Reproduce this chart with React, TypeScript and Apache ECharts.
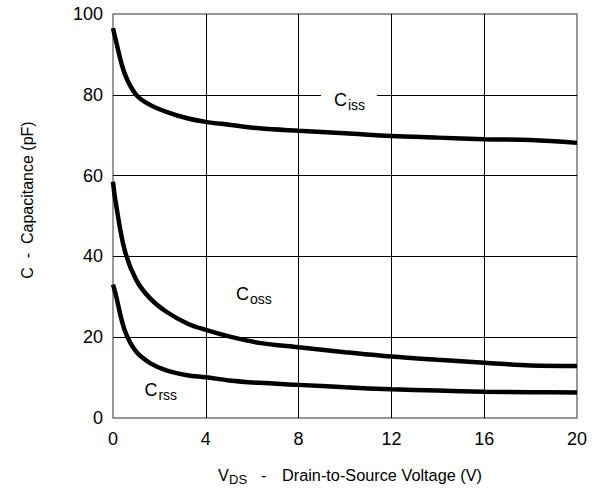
import React, { useEffect, useRef } from "react";
import * as echarts from "echarts";

const vds = [0, 0.1, 0.5, 1.0, 1.6, 2.3, 3.2, 4, 5, 6.3, 8, 10, 12, 14, 16, 18, 20];
const ciss = [96.5, 94, 85.3, 80, 77.5, 75.8, 74.2, 73.3, 72.6, 71.7, 71.1, 70.5, 69.8, 69.4, 69.0, 68.8, 68.1];
const coss = [58.5, 54, 41.6, 34.2, 29.6, 26.3, 23.4, 21.8, 20.2, 18.6, 17.5, 16.3, 15.2, 14.4, 13.7, 13.0, 12.9];
const crss = [33, 31, 21.8, 16.4, 13.6, 11.8, 10.6, 10.1, 9.3, 8.7, 8.2, 7.6, 7.1, 6.8, 6.5, 6.4, 6.3];

const xTicks = [0, 4, 8, 12, 16, 20];
const yTicks = [0, 20, 40, 60, 80, 100];

// annotation anchors (data coordinates)
const labels = [
  { name: "iss", x: 10.17, y: 78.6, bg: true },
  { name: "oss", x: 5.95, y: 30.7, bg: false },
  { name: "rss", x: 2.0, y: 6.9, bg: false },
];

const yTitle = "C  -  Capacitance (pF)";
const xTitleMain = "V";
const xTitleSub = "DS";
const xTitleDash = "-";
const xTitleRest = "Drain-to-Source Voltage (V)";

const FONT = "'Liberation Sans', Arial, sans-serif";

export default function App() {
  const ref = useRef<HTMLDivElement>(null);
  useEffect(() => {
    if (!ref.current) return;
    const chart = echarts.init(ref.current, null, { renderer: "svg" });
    const mk = (arr: number[]) => vds.map((v, i) => [v, arr[i]]);
    const lineSeries = (arr: number[]) => ({
      type: "line",
      data: mk(arr),
      smooth: 0.35,
      symbol: "none",
      lineStyle: { color: "#000", width: 4.5 },
      z: 5,
    });
    chart.setOption({
      animation: false,
      grid: {
        left: 113,
        top: 14,
        width: 464,
        height: 404,
        show: true,
        borderColor: "#777",
        borderWidth: 1.5,
        backgroundColor: "#fff",
      },
      xAxis: {
        type: "value",
        min: xTicks[0],
        max: xTicks[xTicks.length - 1],
        interval: xTicks[1] - xTicks[0],
        axisLine: { show: false },
        axisTick: { show: false },
        axisLabel: { color: "#000", fontSize: 18, fontFamily: FONT, margin: 12 },
        splitLine: { show: true, showMinLine: false, showMaxLine: false, lineStyle: { color: "#000", width: 1 } },
      },
      yAxis: {
        type: "value",
        min: yTicks[0],
        max: yTicks[yTicks.length - 1],
        interval: yTicks[1] - yTicks[0],
        axisLine: { show: false },
        axisTick: { show: false },
        axisLabel: { color: "#000", fontSize: 18, fontFamily: FONT, margin: 10 },
        splitLine: { show: true, showMinLine: false, showMaxLine: false, lineStyle: { color: "#000", width: 1 } },
      },
      series: [lineSeries(ciss), lineSeries(coss), lineSeries(crss)],
    });

    const graphics: any[] = labels.map((l) => {
      const p = chart.convertToPixel({ gridIndex: 0 }, [l.x, l.y]) as number[];
      const children: any[] = [];
      if (l.bg) {
        children.push({
          type: "rect",
          shape: { x: -28, y: -11, width: 56, height: 22 },
          style: { fill: "#fff" },
        });
      }
      children.push({
        type: "text",
        x: -2,
        y: 0,
        style: { text: "C", font: "18px " + FONT, fill: "#000", align: "right", verticalAlign: "middle" },
      });
      children.push({
        type: "text",
        x: -1,
        y: 5,
        style: { text: l.name, font: "14px " + FONT, fill: "#000", align: "left", verticalAlign: "middle" },
      });
      return { type: "group", x: p[0], y: p[1], z: 10, children };
    });
    graphics.push({
      type: "text",
      x: 27,
      y: 200,
      rotation: Math.PI / 2,
      style: {
        text: yTitle,
        fill: "#000",
        font: "16px " + FONT,
        align: "center",
        verticalAlign: "middle",
      },
    });
    graphics.push({
      type: "group",
      x: 218,
      y: 475,
      children: [
        { type: "text", x: 0, y: 0, style: { text: xTitleMain, font: "16.3px " + FONT, fill: "#000", align: "left", verticalAlign: "middle" } },
        { type: "text", x: 11, y: 4, style: { text: xTitleSub, font: "13px " + FONT, fill: "#000", align: "left", verticalAlign: "middle" } },
        { type: "text", x: 43, y: 0, style: { text: xTitleDash, font: "16.3px " + FONT, fill: "#000", align: "left", verticalAlign: "middle" } },
        { type: "text", x: 64, y: 0, style: { text: xTitleRest, font: "16.3px " + FONT, fill: "#000", align: "left", verticalAlign: "middle" } },
      ],
    });
    chart.setOption({ graphic: graphics });
    return () => chart.dispose();
  }, []);
  return <div ref={ref} style={{ width: 599, height: 489, position: "absolute", left: 0, top: 0 }} />;
}
